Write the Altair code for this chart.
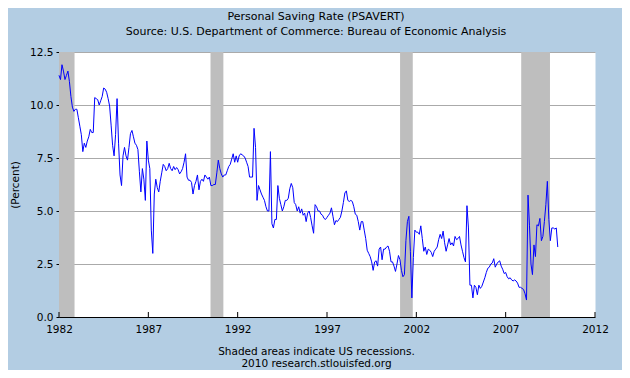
import altair as alt
import pandas as pd

# Monthly personal saving rate (%)
y1982 = [11.4, 11.2, 11.9, 11.6, 11.2, 11.4, 11.6, 11.1, 10.4, 9.9, 9.7, 9.8]
y1983 = [9.8, 9.4, 9.0, 8.6, 7.8, 8.2, 8.0, 8.3, 8.5, 8.85, 8.7, 8.7]
y1984 = [10.35, 10.3, 10.25, 10.0, 10.2, 10.4, 10.8, 10.75, 10.6, 10.3, 9.95, 9.05]
y1985 = [8.1, 7.6, 8.6, 10.3, 8.2, 6.7, 6.2, 7.6, 8.0, 7.6, 7.4, 8.0]
y1986 = [8.65, 8.8, 8.5, 8.2, 8.1, 7.9, 6.85, 5.9, 7.0, 6.5, 5.5, 8.3]
y1987 = [7.4, 7.0, 4.1, 3.0, 5.8, 6.5, 6.1, 5.9, 6.4, 6.8, 7.2, 7.1]
y1988 = [6.9, 7.0, 7.25, 7.0, 6.9, 7.1, 6.95, 7.05, 6.95, 6.75, 6.85, 7.0]
y1989 = [7.3, 7.7, 6.6, 6.45, 6.45, 6.35, 5.8, 6.2, 6.4, 6.7, 6.0, 6.4]
y1990 = [6.5, 6.4, 6.7, 6.6, 6.5, 6.6, 6.2, 6.2, 6.25, 6.25, 6.8, 7.4]
y1991 = [7.0, 6.75, 6.6, 6.7, 6.7, 6.9, 7.1, 7.2, 7.45, 7.7, 7.3, 7.6]
y1992 = [7.3, 7.6, 7.7, 7.65, 7.6, 7.5, 7.3, 7.1, 6.6, 6.6, 6.6, 8.9]
y1993 = [8.0, 5.5, 6.2, 6.0, 5.8, 5.65, 5.5, 5.2, 5.0, 5.0, 7.8, 4.4]
y1994 = [4.2, 4.6, 4.6, 6.2, 5.6, 5.3, 5.0, 5.2, 5.5, 5.5, 5.6, 6.05]
y1995 = [6.3, 6.1, 5.4, 5.3, 5.0, 5.2, 4.9, 5.1, 4.8, 4.9, 4.5, 4.9]
y1996 = [5.0, 4.7, 4.3, 3.95, 5.3, 5.2, 5.0, 5.0, 4.85, 4.8, 4.65, 4.6]
y1997 = [4.7, 4.8, 4.9, 5.15, 4.75, 4.35, 4.55, 4.5, 4.6, 4.7, 5.0, 5.4]
y1998 = [5.85, 5.95, 5.5, 5.45, 5.5, 5.45, 5.2, 4.85, 4.8, 4.5, 4.1, 4.5]
y1999 = [4.5, 4.1, 3.7, 3.15, 3.0, 2.85, 2.6, 2.2, 2.6, 2.65, 2.4, 3.2]
y2000 = [3.3, 2.7, 3.2, 3.2, 3.3, 3.35, 3.1, 2.6, 2.6, 2.4, 2.15, 2.5]
y2001 = [2.9, 2.7, 2.2, 1.9, 2.0, 3.6, 4.5, 4.75, 3.1, 0.9, 2.8, 4.1]
y2002 = [4.0, 4.0, 3.9, 4.3, 3.7, 3.1, 3.3, 2.95, 3.2, 3.15, 3.05, 2.85]
y2003 = [3.1, 3.2, 3.3, 3.65, 3.9, 3.7, 4.05, 3.5, 3.1, 3.4, 3.7, 3.4]
y2004 = [3.5, 3.35, 3.8, 3.65, 3.7, 3.8, 3.4, 3.1, 2.8, 2.6, 5.25, 4.2]
y2005 = [1.5, 1.5, 0.9, 1.5, 1.4, 1.05, 1.5, 1.35, 1.45, 1.65, 1.85, 2.1]
y2006 = [2.3, 2.35, 2.5, 2.55, 2.75, 2.35, 2.5, 2.6, 2.65, 2.4, 2.25, 2.05]
y2007 = [2.1, 1.9, 1.8, 1.85, 1.75, 1.7, 1.75, 1.7, 1.6, 1.4, 1.4, 1.35]
y2008 = [1.3, 1.1, 0.8, 5.75, 4.3, 2.5, 2.0, 3.4, 2.85, 4.35, 4.3, 4.65]
y2009 = [3.6, 3.8, 4.5, 5.3, 6.4, 4.6, 3.6, 4.2, 4.2, 4.15, 4.2, 3.3]

series = [y1982, y1983, y1984, y1985, y1986, y1987, y1988, y1989, y1990,
          y1991, y1992, y1993, y1994, y1995, y1996, y1997, y1998, y1999,
          y2000, y2001, y2002, y2003, y2004, y2005, y2006, y2007, y2008,
          y2009]
first_year = 1982

# Recessions (decimal years, as shaded in the reference)
rec_start = [1982.0, 1990.48, 2001.09, 2007.87]
rec_end = [1982.87, 1991.2, 2001.8, 2009.48]

tick_years = [1982, 1987, 1992, 1997, 2002, 2007, 2012]
y_ticks = [0, 2.5, 5, 7.5, 10, 12.5]

rows = []
for i, vals in enumerate(series):
    for m, v in enumerate(vals):
        rows.append({"t": first_year + i + m / 12.0, "v": v})
df = pd.DataFrame(rows)
rec = pd.DataFrame({"start": rec_start, "end": rec_end,
                    "lo": [0.0] * len(rec_start), "hi": [12.5] * len(rec_start)})
ticks_df = pd.DataFrame({"yr": tick_years})

FONT = "DejaVu Sans"
BG = "#B3CDE3"

xscale = alt.Scale(domain=[1982, 2012], nice=False, zero=False)
yscale = alt.Scale(domain=[0, 12.5], nice=False, zero=True)

xaxis = alt.Axis(values=tick_years, format="d", ticks=False, grid=False,
                 labelFlush=False, labelPadding=7, labelFont=FONT,
                 labelFontSize=10.5, labelColor="black",
                 domainColor="black", domainWidth=1,
                 title=["Shaded areas indicate US recessions.",
                        "2010 research.stlouisfed.org"],
                 titleFont=FONT, titleFontSize=10.5, titleFontWeight="normal",
                 titleColor="black", titleX=257, titleY=29,
                 titleBaseline="top", titleAlign="center", titleLineHeight=12)

yaxis = alt.Axis(values=y_ticks, format=".1f", tickSize=3, tickColor="black",
                 labelPadding=3, labelFont=FONT, labelFontSize=10.5,
                 labelColor="black", domainColor="black", domainWidth=1,
                 grid=True, gridColor="#AAAAAA", gridWidth=1,
                 title="(Percent)", titleFont=FONT, titleFontSize=10.5,
                 titleFontWeight="normal", titleColor="black",
                 titleX=-44, titleY=132.5, titleAngle=270,
                 titleAlign="center", titleBaseline="middle")

rects = alt.Chart(rec).mark_rect(color="#BEBEBE").encode(
    x=alt.X("start:Q", scale=xscale, axis=xaxis),
    x2="end:Q",
    y=alt.Y("lo:Q", scale=yscale, axis=yaxis),
    y2="hi:Q",
)

xticks = alt.Chart(ticks_df).mark_rule(color="black", strokeWidth=1).encode(
    x=alt.X("yr:Q", scale=xscale, axis=xaxis),
    y=alt.value(265),
    y2=alt.value(260),
)

line = alt.Chart(df).mark_line(color="#0000FF", strokeWidth=1).encode(
    x=alt.X("t:Q", scale=xscale, axis=xaxis),
    y=alt.Y("v:Q", scale=yscale, axis=yaxis),
)

chart = alt.layer(rects, xticks, line).properties(
    width=536,
    height=265,
    padding={"left": 51, "top": 44, "right": 27, "bottom": 53},
    autosize=alt.AutoSizeParams(type="none"),
    background=BG,
    title=alt.TitleParams(
        text="Personal Saving Rate (PSAVERT)",
        subtitle="Source: U.S. Department of Commerce: Bureau of Economic Analysis",
        anchor="middle", frame="group", font=FONT, fontSize=11,
        fontWeight="normal", color="black", subtitleFont=FONT,
        subtitleFontSize=11, subtitleColor="black", subtitlePadding=4,
        offset=10, dx=-11,
    ),
).configure_view(fill="white", stroke="transparent")

chart.save("out.html", embed_options={"renderer": "svg", "actions": False})
